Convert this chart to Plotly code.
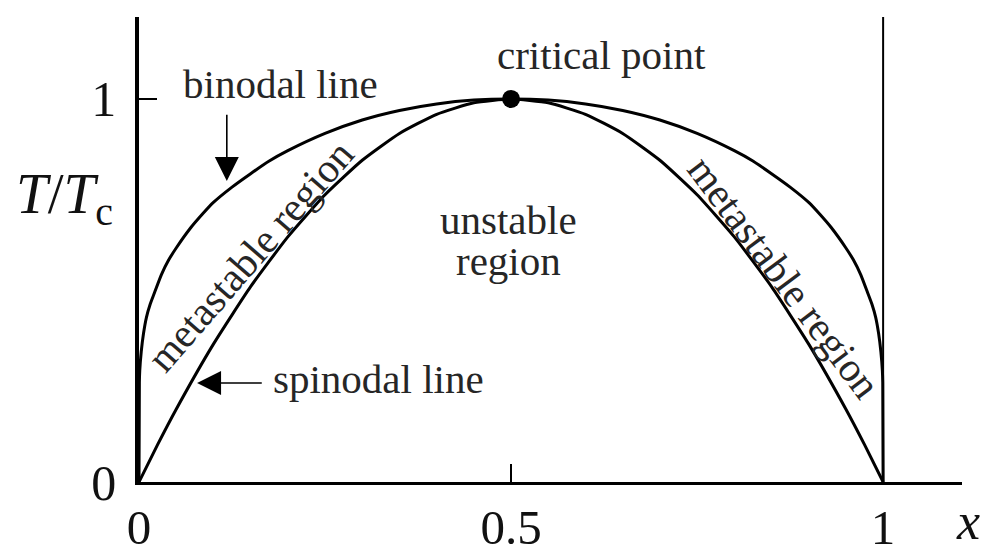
import plotly.graph_objects as go

# binodal (coexistence) curve
binodal_x = [0, 0.0005, 0.001, 0.003, 0.006, 0.01, 0.015, 0.02, 0.03, 0.04, 0.05, 0.07, 0.085,
             0.1, 0.125, 0.15, 0.175, 0.2, 0.25, 0.3, 0.35, 0.4, 0.45, 0.5,
             0.55, 0.6, 0.65, 0.7, 0.75, 0.8, 0.825, 0.85, 0.875, 0.9, 0.915, 0.93, 0.95,
             0.96, 0.97, 0.98, 0.985, 0.99, 0.994, 0.997, 0.999, 0.9995, 1]
binodal_y = [0, 0.26, 0.29, 0.34, 0.387, 0.43, 0.464, 0.49, 0.541, 0.58, 0.611, 0.665, 0.699,
             0.73, 0.77, 0.805, 0.838, 0.865, 0.91, 0.945, 0.97, 0.987, 0.997, 1.0,
             0.997, 0.987, 0.97, 0.945, 0.91, 0.865, 0.838, 0.805, 0.77, 0.73, 0.699, 0.665, 0.611,
             0.58, 0.541, 0.49, 0.464, 0.43, 0.387, 0.34, 0.29, 0.26, 0]

# spinodal curve
spinodal_x = [0, 0.025, 0.05, 0.1, 0.15, 0.2, 0.25, 0.3, 0.35, 0.4, 0.45, 0.5,
              0.55, 0.6, 0.65, 0.7, 0.75, 0.8, 0.85, 0.9, 0.95, 0.975, 1]
spinodal_y = [0, 0.0975, 0.19, 0.36, 0.51, 0.64, 0.75, 0.84, 0.91, 0.96, 0.99, 1.0,
              0.99, 0.96, 0.91, 0.84, 0.75, 0.64, 0.51, 0.36, 0.19, 0.0975, 0]

critical_x = [0.5]
critical_y = [1.0]

x_ticks = [0, 0.5, 1]
x_tick_labels = ["0", "0.5", "1"]
y_ticks = [0, 1]
y_tick_labels = ["0", "1"]

FONT = "Liberation Serif"

fig = go.Figure()
fig.add_trace(go.Scatter(x=binodal_x, y=binodal_y, mode="lines",
                         line=dict(color="black", width=3, shape="spline", smoothing=0.5),
                         hoverinfo="skip"))
fig.add_trace(go.Scatter(x=spinodal_x, y=spinodal_y, mode="lines",
                         line=dict(color="black", width=3, shape="spline", smoothing=0.5),
                         hoverinfo="skip"))
fig.add_trace(go.Scatter(x=critical_x, y=critical_y, mode="markers",
                         marker=dict(color="black", size=18), hoverinfo="skip"))

# vertical line at x = 1
fig.add_shape(type="line", x0=1, x1=1, y0=0, y1=1.214, xref="x", yref="y",
              line=dict(color="black", width=2))

txt = dict(family=FONT, size=41, color="#262626")
fig.add_annotation(x=0.621, y=1.115, text="critical point", showarrow=False, font=txt)
fig.add_annotation(x=0.19, y=1.039, text="binodal line", showarrow=False, font=txt)
fig.add_annotation(x=0.322, y=0.269, text="spinodal line", showarrow=False, font=txt)
fig.add_annotation(x=0.497, y=0.683, text="unstable", showarrow=False, font=txt)
fig.add_annotation(x=0.497, y=0.578, text="region", showarrow=False, font=txt)
fig.add_annotation(x=0.149, y=0.59, text="metastable region", showarrow=False,
                   textangle=-49, font=txt)
fig.add_annotation(x=0.867, y=0.535, text="metastable region", showarrow=False,
                   textangle=53, font=txt)

# arrows
fig.add_annotation(x=0.118, y=0.786, ax=0.118, ay=0.963, xref="x", yref="y",
                   axref="x", ayref="y", text="", showarrow=True, arrowhead=2,
                   arrowsize=3, arrowwidth=1.6, arrowcolor="black", standoff=0)
fig.add_annotation(x=0.078, y=0.2585, ax=0.167, ay=0.2585, xref="x", yref="y",
                   axref="x", ayref="y", text="", showarrow=True, arrowhead=2,
                   arrowsize=3, arrowwidth=1.6, arrowcolor="black", standoff=0)

# axis labels (paper coordinates so they sit outside the axes)
fig.add_annotation(x=-0.09, y=0.61, xref="paper", yref="paper",
                   text="<i>T</i>/<i>T</i><sub>c</sub>", showarrow=False,
                   xanchor="center", yanchor="middle",
                   font=dict(family=FONT, size=57, color="#111"))
fig.add_annotation(x=1.007, y=-0.086, xref="paper", yref="paper",
                   xanchor="center", yanchor="middle",
                   text="<i>x</i>", showarrow=False,
                   font=dict(family=FONT, size=52, color="#111"))

fig.update_xaxes(range=[0, 1.106], tickvals=x_ticks, ticktext=x_tick_labels,
                 showline=True, linewidth=3, linecolor="black", ticks="inside",
                 ticklen=18, tickwidth=1.5, tickcolor="black", showgrid=False,
                 zeroline=False, automargin=False,
                 tickfont=dict(family=FONT, size=49, color="#111"))
fig.update_yaxes(range=[0, 1.214], tickvals=y_ticks, ticktext=y_tick_labels,
                 showline=True, linewidth=3.5, linecolor="black", ticks="inside",
                 ticklen=18, tickwidth=1.5, tickcolor="black", showgrid=False,
                 zeroline=False, automargin=False, ticklabelstandoff=9,
                 tickfont=dict(family=FONT, size=50, color="#111"))

# the page body adds an 8px offset, so the figure is 8px smaller than the window
fig.update_layout(width=981, height=537, showlegend=False,
                  margin=dict(l=131, r=27, t=9, b=63),
                  paper_bgcolor="white", plot_bgcolor="white")

fig.write_html("out.html")
